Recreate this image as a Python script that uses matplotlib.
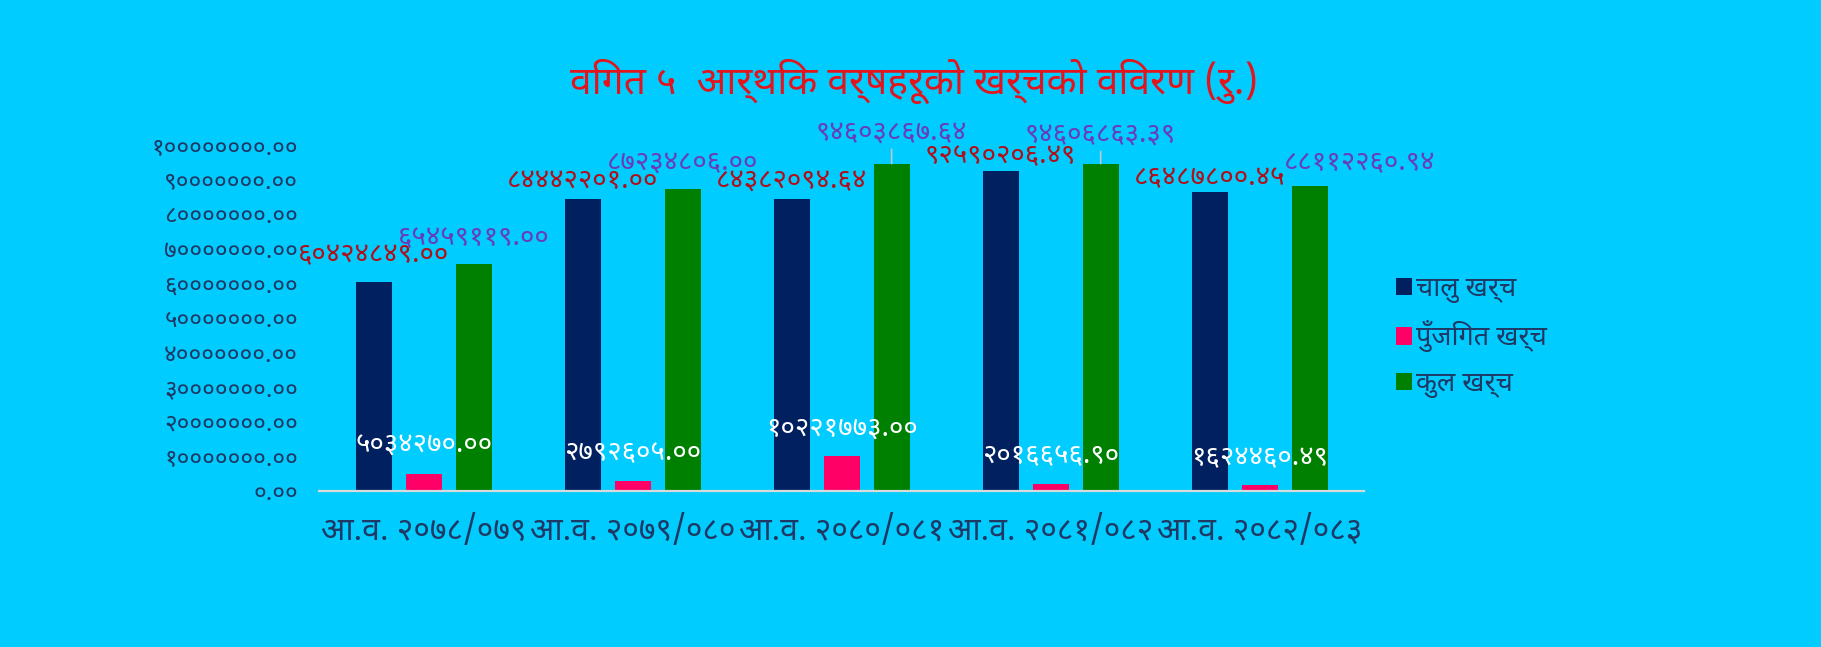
import matplotlib
matplotlib.use("Agg")
import matplotlib.pyplot as plt
import numpy as np

plt.rcParams["font.family"] = ["Noto Sans Devanagari", "DejaVu Sans"]

# data (Rs.)
years = ["आ.व. २०७८/०७९", "आ.व. २०७९/०८०", "आ.व. २०८०/०८१", "आ.व. २०८१/०८२", "आ.व. २०८२/०८३"]
current_exp = [60424849.00, 84442201.00, 84382094.64, 92590206.49, 86487800.45]
capital_exp = [5034270.00, 2792605.00, 10221773.00, 2016656.90, 1624460.49]
total_exp = [65459119.00, 87234806.00, 94603867.64, 94606863.39, 88112260.94]
series_names = ["चालु खर्च", "पुँजिगत खर्च", "कुल खर्च"]
y_ticks = [i * 10000000 for i in range(11)]

title = "विगत ५  आर्थिक वर्षहरूको खर्चको विवरण (रु.)"

DEV = str.maketrans("0123456789", "०१२३४५६७८९")


def dev(v):
    return f"{v:.2f}".translate(DEV)


bg = "#00CCFF"
navy = "#1F3864"
bar_colors = ["#002060", "#FF0066", "#008000"]
label_colors = ["#B0101A", "white", "#6A3DB8"]

# label offsets in pixels (dx, dy) per series / group
label_dy = [[27, 18, 18, 14, 14], [28, 28, 27, 28, 27], [26, 26, 31, 29, 23]]
label_dx = [[0, 0, 0, 0, 0], [0, 0, 0, 0, 0], [0, 0, 0, 0, 50]]

fig = plt.figure(figsize=(18.21, 6.47), dpi=100, facecolor=bg)
ax = fig.add_axes([0.1752, 0.241, 0.574, 0.535])
ax.set_facecolor(bg)

x = np.arange(len(years))
w = 0.172
off = 0.239
allvals = [current_exp, capital_exp, total_exp]
for i, vals in enumerate(allvals):
    pos = x + (i - 1) * off
    ax.bar(pos, vals, width=w, color=bar_colors[i], label=series_names[i], zorder=2)
    for j, (p, v) in enumerate(zip(pos, vals)):
        lead = None
        if i == 2 and j in (2, 3):
            lead = dict(arrowstyle="-", color="#B8C8D0", lw=1.2, shrinkA=0, shrinkB=0)
        ax.annotate(dev(v), xy=(p, v), xytext=(label_dx[i][j] * 0.72, label_dy[i][j] * 0.72),
                    textcoords="offset points", ha="center", va="center",
                    fontsize=20, fontweight="medium", color=label_colors[i],
                    annotation_clip=False, arrowprops=lead, zorder=3)

ax.set_xlim(-0.5, len(years) - 0.5)
ax.set_ylim(0, 100000000)
ax.set_yticks(y_ticks)
ax.set_yticklabels([dev(t) for t in y_ticks], fontsize=17.5, fontweight="medium", color=navy)
ax.set_xticks(x)
ax.set_xticklabels(years, fontsize=23, color=navy)
ax.tick_params(axis="both", length=0)
ax.tick_params(axis="y", pad=15)
ax.tick_params(axis="x", pad=17)
for s in ["top", "right", "left"]:
    ax.spines[s].set_visible(False)
ax.spines["bottom"].set_color("#D9D9D9")
ax.spines["bottom"].set_linewidth(1.6)

fig.text(0.502, 0.875, title, ha="center", va="center", fontsize=28, color="#E3141C")

leg = ax.legend(loc="center left", bbox_to_anchor=(0.753, 0.48), bbox_transform=fig.transFigure,
                frameon=False, prop={"size": 19.5, "weight": "bold"},
                handlelength=0.62, handleheight=0.62, handletextpad=0.15, labelspacing=0.65)
for t in leg.get_texts():
    t.set_color(navy)

fig.savefig("out.png", dpi=100, facecolor=bg)
